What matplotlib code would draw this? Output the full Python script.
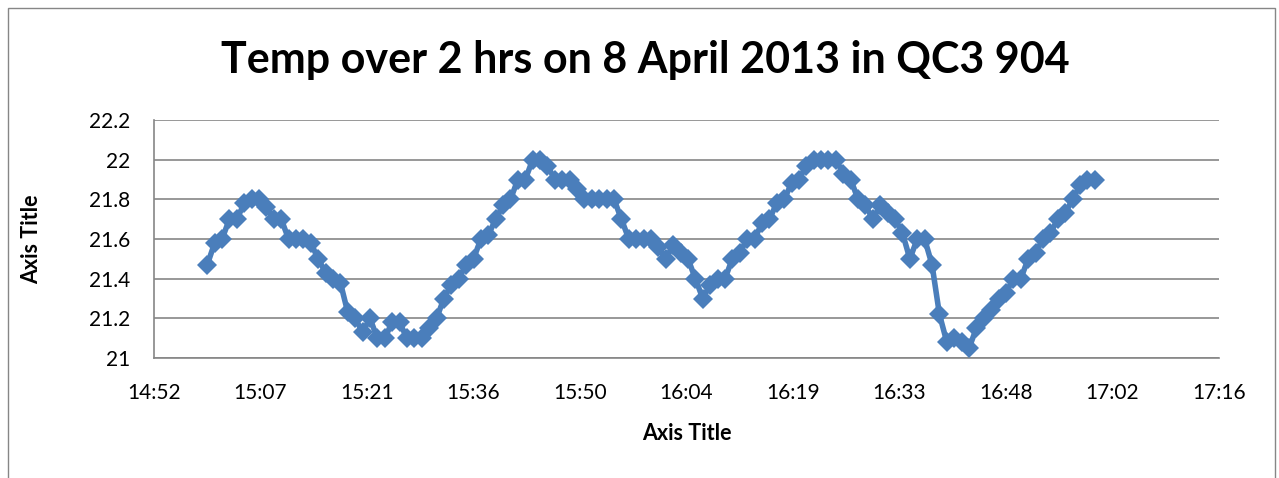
import numpy as np
import pandas as pd
import matplotlib
matplotlib.use("Agg")
import matplotlib.pyplot as plt
from matplotlib.patches import Rectangle
from matplotlib.ticker import FuncFormatter

# temperature readings, one per minute from 15:00
temps = [
    21.47, 21.58, 21.60, 21.70, 21.70, 21.78, 21.80, 21.80, 21.76, 21.70,
    21.70, 21.60, 21.60, 21.60, 21.58, 21.50, 21.43, 21.40, 21.38, 21.23,
    21.20, 21.13, 21.20, 21.10, 21.10, 21.18, 21.18, 21.10, 21.10, 21.10,
    21.15, 21.20, 21.30, 21.37, 21.40, 21.47, 21.50, 21.60, 21.62, 21.70,
    21.77, 21.80, 21.90, 21.90, 22.00, 22.00, 21.97, 21.90, 21.90, 21.90,
    21.85, 21.80, 21.80, 21.80, 21.80, 21.80, 21.70, 21.60, 21.60, 21.60,
    21.60, 21.56, 21.50, 21.57, 21.53, 21.50, 21.40, 21.30, 21.37, 21.40,
    21.40, 21.50, 21.53, 21.60, 21.60, 21.68, 21.70, 21.78, 21.80, 21.88,
    21.90, 21.97, 22.00, 22.00, 22.00, 22.00, 21.93, 21.90, 21.80, 21.77,
    21.70, 21.77, 21.73, 21.70, 21.63, 21.50, 21.60, 21.60, 21.47, 21.22,
    21.08, 21.10, 21.08, 21.05, 21.15, 21.20, 21.24, 21.30, 21.33, 21.40,
    21.40, 21.50, 21.53, 21.60, 21.63, 21.70, 21.73, 21.80, 21.87, 21.90,
    21.90,
]
times = pd.date_range("2013-04-08 15:00", periods=len(temps), freq="1min")

title = "Temp over 2 hrs on 8 April 2013 in QC3 904"
x_ticks = np.arange(0.62, 0.7201, 0.01)  # excel day fractions
y_ticks = [21, 21.2, 21.4, 21.6, 21.8, 22, 22.2]
y_labels = ["21", "21.2", "21.4", "21.6", "21.8", "22", "22.2"]


def day_fraction(ts):
    return (ts.hour * 60 + ts.minute) / 1440.0


def hhmm(v, pos):
    mins = int(round(v * 1440 * 10)) // 10
    return "%d:%02d" % (mins // 60, mins % 60)


def main():
    plt.rcParams["font.family"] = ["Lato", "DejaVu Sans"]
    fig = plt.figure(figsize=(12.79, 4.78), dpi=100)
    fig.patches.append(Rectangle((8 / 1279, -0.1), 1267 / 1279, 1.1 - 8 / 478,
                                 transform=fig.transFigure, fill=False,
                                 edgecolor="#868686", linewidth=1))
    ax = fig.add_axes([154 / 1279, 1 - 358 / 478, 1065 / 1279, 238 / 478])

    x = day_fraction(times)
    ax.plot(x, temps, color="#4A7EBB", linewidth=4, marker="D",
            markersize=10.5, markeredgewidth=0, zorder=3)

    ax.set_xlim(0.62, 0.72)
    ax.set_ylim(21, 22.2)
    ax.set_xticks(x_ticks)
    ax.xaxis.set_major_formatter(FuncFormatter(hhmm))
    ax.set_yticks(y_ticks)
    ax.set_yticklabels(y_labels)
    ax.grid(axis="y", color="#868686", linewidth=1.2)
    ax.set_axisbelow(True)
    for s in ["top", "right"]:
        ax.spines[s].set_visible(False)
    for s in ["left", "bottom"]:
        ax.spines[s].set_color("#868686")
        ax.spines[s].set_linewidth(1.2)
    ax.tick_params(length=0, labelsize=15)
    ax.tick_params(axis="y", pad=17)
    ax.tick_params(axis="x", pad=18)

    fig.text(687 / 1279, 1 - 433 / 478, "Axis Title", ha="center",
             va="center", fontsize=15.5, fontweight="bold")
    fig.text(32 / 1279, 1 - 239 / 478, "Axis Title", ha="center",
             va="center", rotation=90, fontsize=15.5, fontweight="bold")
    fig.text(645 / 1279, 1 - 60 / 478, title, ha="center", va="center",
             fontsize=31, fontweight="bold")

    fig.savefig("out.png", dpi=100)


if __name__ == "__main__":
    main()
